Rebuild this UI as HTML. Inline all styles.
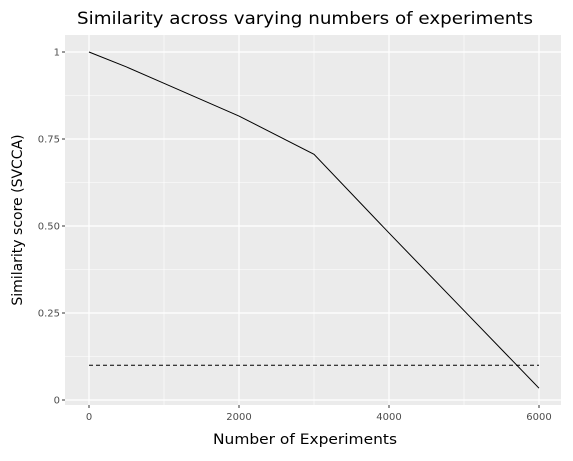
<!DOCTYPE html>
<html><head><meta charset="utf-8"><style>
body{margin:0;background:#fff;font-family:"Liberation Sans","DejaVu Sans",sans-serif}
</style></head><body>
<svg id="chart" width="573" height="456" xmlns="http://www.w3.org/2000/svg" font-family="DejaVu Sans, Liberation Sans, sans-serif">
<text x="305" y="24" font-size="17" text-anchor="middle" fill="#000" textLength="456" lengthAdjust="spacingAndGlyphs">Similarity across varying numbers of experiments</text>
<rect x="65" y="35" width="496" height="370" fill="#ebebeb"/>
<g id="grid"></g><g id="axes"></g><g id="series"></g>
<text x="305" y="444" font-size="14" text-anchor="middle" textLength="184" lengthAdjust="spacingAndGlyphs">Number of Experiments</text>
<text transform="translate(22,220) rotate(-90)" font-size="14" text-anchor="middle">Similarity score (SVCCA)</text>
</svg>
<script>
const xValues=[0,500,1000,2000,3000,4000,5000,6000];
const yValues=[1,0.957,0.91,0.816,0.706,0.48,0.257,0.034];
const baselineValue=0.1;
const xTicks=[0,2000,4000,6000];
const yTicks=[0,0.25,0.5,0.75,1];
const yTickLabels=["0","0.25","0.50","0.75","1"];
const NS="http://www.w3.org/2000/svg";
const sx=v=>89+v*(450/6000), sy=v=>400-v*348;
function mk(t,a,p){const e=document.createElementNS(NS,t);for(const k in a)e.setAttribute(k,a[k]);p.appendChild(e);return e;}
const grid=document.getElementById('grid'),axes=document.getElementById('axes'),series=document.getElementById('series');
for(let i=0;i<xTicks.length-1;i++){const m=(xTicks[i]+xTicks[i+1])/2;const l=mk('line',{x1:sx(m),x2:sx(m),y1:35,y2:405,stroke:'#fff','stroke-width':0.6},grid);

}
for(let i=0;i<yTicks.length-1;i++){const m=(yTicks[i]+yTicks[i+1])/2;const l=mk('line',{x1:65,x2:561,y1:sy(m),y2:sy(m),stroke:'#fff','stroke-width':0.6},grid);

}
xTicks.forEach(v=>{const l=mk('line',{x1:sx(v),x2:sx(v),y1:35,y2:405,stroke:'#fff','stroke-width':1.2},grid);


mk('line',{x1:sx(v),x2:sx(v),y1:405,y2:408,stroke:'#333'},axes);
const t=mk('text',{x:sx(v),y:420,'font-size':10,'text-anchor':'middle',fill:'#4d4d4d'},axes);t.textContent=v;

});
yTicks.forEach((v,i)=>{const l=mk('line',{x1:65,x2:561,y1:sy(v),y2:sy(v),stroke:'#fff','stroke-width':1.2},grid);


mk('line',{x1:62,x2:65,y1:sy(v),y2:sy(v),stroke:'#333'},axes);
const t=mk('text',{x:60,y:sy(v)+3.5,'font-size':10,'text-anchor':'end',fill:'#4d4d4d'},axes);t.textContent=yTickLabels[i];

});
const b=mk('line',{x1:sx(xValues[0]),x2:sx(xValues[xValues.length-1]),y1:sy(baselineValue),y2:sy(baselineValue),stroke:'#000','stroke-dasharray':'4,3','stroke-width':1},series);


const p=mk('polyline',{points:xValues.map((x,i)=>sx(x)+','+sy(yValues[i])).join(' '),fill:'none',stroke:'#000','stroke-width':1},series);


</script>
</body></html>
